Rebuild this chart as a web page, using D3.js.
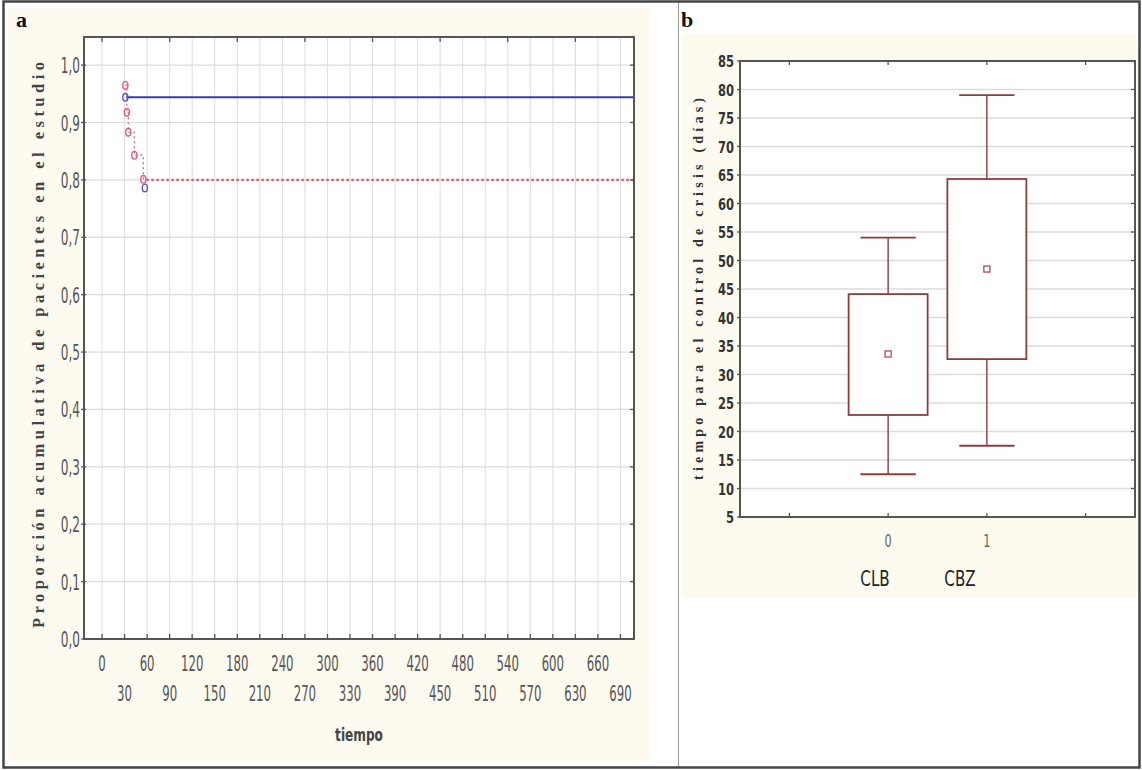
<!DOCTYPE html>
<html>
<head>
<meta charset="utf-8">
<script src="https://cdn.jsdelivr.net/npm/d3@7"></script>
<style>
  body { margin: 0; background: #ffffff; }
  svg { display: block; }
</style>
</head>
<body>
<svg id="chart" width="1142" height="770"></svg>
<script>
// ---------- Panel a data (Kaplan-Meier style) ----------
const timeTicks = [0, 30, 60, 90, 120, 150, 180, 210, 240, 270, 300, 330, 360, 390, 420, 450, 480, 510, 540, 570, 600, 630, 660, 690];
const propTicks = [0.0, 0.1, 0.2, 0.3, 0.4, 0.5, 0.6, 0.7, 0.8, 0.9, 1.0];
const topTicksA = [0, 90, 180, 270, 360, 450, 540, 630];
const redTimes = [31, 33, 35, 43, 55];
const redProps = [0.965, 0.918, 0.883, 0.843, 0.801];
const blueTimes = [31, 57];
const blueProps = [0.944, 0.786];
const blueLevel = 0.944, blueStart = 32;
const redLevel = 0.80, redStart = 59;
const timeMax = 708;

// ---------- Panel b data (box plot) ----------
const groupCodes = [0, 1];
const groupNames = ["CLB", "CBZ"];
const whiskerLow = [12.5, 17.5];
const q1 = [22.9, 32.7];
const meanVal = [33.6, 48.5];
const q3 = [44.1, 64.3];
const whiskerHigh = [54.0, 79.0];
const daysTicks = [5, 10, 15, 20, 25, 30, 35, 40, 45, 50, 55, 60, 65, 70, 75, 80, 85];
const catTicks = [-1, 0, 1, 2];

const svg = d3.select("#chart");
const narrow = "'Liberation Sans Narrow', 'DejaVu Sans Condensed', 'Arial Narrow', sans-serif";
const serif = "'Liberation Serif', 'DejaVu Serif', serif";

// backgrounds
svg.append("rect").attr("x", 8).attr("y", 8).attr("width", 642).attr("height", 754).attr("fill", "#fdfaf0");
svg.append("rect").attr("x", 682).attr("y", 34).attr("width", 458).attr("height", 564).attr("fill", "#fdfaf0");

// outer frame & divider
svg.append("line").attr("x1", 678.5).attr("x2", 678.5).attr("y1", 2).attr("y2", 768).attr("stroke", "#9a9a9a").attr("stroke-width", 1);
svg.append("rect").attr("x", 3.5).attr("y", 1.5).attr("width", 1136).attr("height", 766)
  .attr("fill", "none").attr("stroke", "#444").attr("stroke-width", 2.5);

// panel letters
svg.append("text").attr("x", 16).attr("y", 27).text("a")
  .attr("font-family", serif).attr("font-weight", "bold").attr("font-size", 22).attr("fill", "#111");
svg.append("text").attr("x", 681).attr("y", 27).text("b")
  .attr("font-family", serif).attr("font-weight", "bold").attr("font-size", 22).attr("fill", "#111");

// ================= Panel a =================
const A = {left: 84, right: 634, top: 37, bottom: 639};
const xA = d3.scaleLinear().domain([-24, timeMax]).range([A.left, A.right]);
const yA = d3.scaleLinear().domain([0, 1.049]).range([A.bottom, A.top]);
const gA = svg.append("g");
gA.append("rect").attr("x", A.left).attr("y", A.top).attr("width", A.right - A.left).attr("height", A.bottom - A.top).attr("fill", "#fff");

// grid
gA.append("g").selectAll("line").data(timeTicks).join("line")
  .attr("x1", d => xA(d)).attr("x2", d => xA(d)).attr("y1", A.top).attr("y2", A.bottom)
  .attr("stroke", "#e2e2e2").attr("stroke-width", 1.2);
gA.append("g").selectAll("line").data(propTicks.slice(1)).join("line")
  .attr("x1", A.left).attr("x2", A.right).attr("y1", d => yA(d)).attr("y2", d => yA(d))
  .attr("stroke", "#dcdcdc").attr("stroke-width", 1.2);

// blue solid level
gA.append("line").attr("x1", xA(blueStart)).attr("x2", xA(timeMax)).attr("y1", yA(blueLevel)).attr("y2", yA(blueLevel))
  .attr("stroke", "#3b3c9e").attr("stroke-width", 2.2);
// red dotted level
gA.append("line").attr("x1", xA(redStart)).attr("x2", xA(timeMax)).attr("y1", yA(redLevel)).attr("y2", yA(redLevel))
  .attr("stroke", "#e4566a").attr("stroke-width", 2.2).attr("stroke-dasharray", "2.5,2.5");
// red step
const redPts = redTimes.map((t, i) => [t, redProps[i]]);
gA.append("path").datum(redPts)
  .attr("d", d3.line().x(d => xA(d[0])).y(d => yA(d[1])).curve(d3.curveStepAfter))
  .attr("fill", "none").attr("stroke", "#e4566a").attr("stroke-width", 1.2).attr("stroke-dasharray", "2,3");
// markers
gA.append("g").selectAll("ellipse").data(redPts).join("ellipse")
  .attr("cx", d => xA(d[0])).attr("cy", d => yA(d[1])).attr("rx", 2.6).attr("ry", 3.8)
  .attr("fill", "none").attr("stroke", "#e0607a").attr("stroke-width", 1.4);
gA.append("g").selectAll("ellipse").data(blueTimes.map((t, i) => [t, blueProps[i]])).join("ellipse")
  .attr("cx", d => xA(d[0])).attr("cy", d => yA(d[1])).attr("rx", 2.6).attr("ry", 3.8)
  .attr("fill", "none").attr("stroke", "#5a5ab8").attr("stroke-width", 1.4);

// frame
gA.append("rect").attr("x", A.left).attr("y", A.top).attr("width", A.right - A.left).attr("height", A.bottom - A.top)
  .attr("fill", "none").attr("stroke", "#555").attr("stroke-width", 2);

// bottom inward ticks
gA.append("g").selectAll("line").data(timeTicks).join("line")
  .attr("x1", d => xA(d)).attr("x2", d => xA(d)).attr("y1", A.bottom).attr("y2", A.bottom - 5)
  .attr("stroke", "#555").attr("stroke-width", 1.3);
// top inward ticks
gA.append("g").selectAll("line").data(topTicksA).join("line")
  .attr("x1", d => xA(d)).attr("x2", d => xA(d)).attr("y1", A.top).attr("y2", A.top + 5)
  .attr("stroke", "#555").attr("stroke-width", 1.3);
// left/right ticks
gA.append("g").selectAll("line").data(propTicks).join("line")
  .attr("x1", A.left - 3).attr("x2", A.left + 2).attr("y1", d => yA(d)).attr("y2", d => yA(d))
  .attr("stroke", "#555").attr("stroke-width", 1.3);
gA.append("g").selectAll("line").data(propTicks).join("line")
  .attr("x1", A.right - 4).attr("x2", A.right).attr("y1", d => yA(d)).attr("y2", d => yA(d))
  .attr("stroke", "#555").attr("stroke-width", 1.3);

// y tick labels
const fmtComma = d => d.toFixed(1).replace(".", ",");
gA.append("g").selectAll("text").data(propTicks).join("text")
  .attr("transform", d => `translate(${A.left - 4},${yA(d) + 8}) scale(0.64,1)`)
  .attr("text-anchor", "end").text(fmtComma)
  .attr("font-family", narrow).attr("font-size", 21).attr("fill", "#555");
// x tick labels, alternating rows
gA.append("g").selectAll("text").data(timeTicks).join("text")
  .attr("transform", (d, i) => `translate(${xA(d)},${i % 2 === 0 ? 671 : 701}) scale(0.62,1)`)
  .attr("text-anchor", "middle").text(d => d)
  .attr("font-family", narrow).attr("font-size", 21).attr("fill", "#555");
// axis titles
gA.append("text").attr("transform", `translate(${(A.left + A.right) / 2},741) scale(0.75,1)`).attr("text-anchor", "middle")
  .text("tiempo").attr("font-family", narrow).attr("font-weight", "bold").attr("font-size", 18).attr("fill", "#444");
gA.append("text").attr("transform", "translate(44,345) rotate(-90)").attr("text-anchor", "middle")
  .attr("textLength", 566).attr("lengthAdjust", "spacing")
  .text("Proporción acumulativa de pacientes en el estudio")
  .attr("font-family", serif).attr("font-weight", "bold").attr("font-size", 16.5).attr("fill", "#444");

// ================= Panel b =================
const B = {left: 740, right: 1135, top: 61, bottom: 517};
const xB = d3.scaleLinear().domain([-1.5, 2.5]).range([B.left, B.right]);
const yB = d3.scaleLinear().domain([5, 85]).range([B.bottom, B.top]);
const gB = svg.append("g");
gB.append("rect").attr("x", B.left).attr("y", B.top).attr("width", B.right - B.left).attr("height", B.bottom - B.top).attr("fill", "#fff");
gB.append("g").selectAll("line").data(daysTicks.slice(1, -1)).join("line")
  .attr("x1", B.left).attr("x2", B.right).attr("y1", d => yB(d)).attr("y2", d => yB(d))
  .attr("stroke", "#dcdcdc").attr("stroke-width", 1.5);

const boxColor = "#8e3b3b";
const boxW = 0.8, capW = 0.56;
groupCodes.forEach((g, i) => {
  const cx = xB(g);
  // whiskers
  gB.append("line").attr("x1", cx).attr("x2", cx).attr("y1", yB(whiskerHigh[i])).attr("y2", yB(q3[i])).attr("stroke", boxColor).attr("stroke-width", 1.4);
  gB.append("line").attr("x1", cx).attr("x2", cx).attr("y1", yB(q1[i])).attr("y2", yB(whiskerLow[i])).attr("stroke", boxColor).attr("stroke-width", 1.4);
  [whiskerHigh[i], whiskerLow[i]].forEach(v => {
    gB.append("line").attr("x1", xB(g - capW / 2)).attr("x2", xB(g + capW / 2)).attr("y1", yB(v)).attr("y2", yB(v))
      .attr("stroke", boxColor).attr("stroke-width", 1.8);
  });
  gB.append("rect").attr("x", xB(g - boxW / 2)).attr("y", yB(q3[i])).attr("width", xB(g + boxW / 2) - xB(g - boxW / 2))
    .attr("height", yB(q1[i]) - yB(q3[i])).attr("fill", "#fff").attr("stroke", boxColor).attr("stroke-width", 1.8);
  gB.append("rect").attr("x", cx - 3).attr("y", yB(meanVal[i]) - 3).attr("width", 6).attr("height", 6)
    .attr("fill", "none").attr("stroke", "#b4465a").attr("stroke-width", 1.3);
});

gB.append("rect").attr("x", B.left).attr("y", B.top).attr("width", B.right - B.left).attr("height", B.bottom - B.top)
  .attr("fill", "none").attr("stroke", "#555").attr("stroke-width", 2);
// ticks
gB.append("g").selectAll("line").data(catTicks).join("line")
  .attr("x1", d => xB(d)).attr("x2", d => xB(d)).attr("y1", B.top).attr("y2", B.top + 4).attr("stroke", "#555").attr("stroke-width", 1.3);
gB.append("g").selectAll("line").data(catTicks).join("line")
  .attr("x1", d => xB(d)).attr("x2", d => xB(d)).attr("y1", B.bottom).attr("y2", B.bottom - 4).attr("stroke", "#555").attr("stroke-width", 1.3);
gB.append("g").selectAll("line").data(daysTicks).join("line")
  .attr("x1", B.left - 3).attr("x2", B.left + 1).attr("y1", d => yB(d)).attr("y2", d => yB(d)).attr("stroke", "#555").attr("stroke-width", 1.3);
gB.append("g").selectAll("line").data(daysTicks).join("line")
  .attr("x1", B.right - 4).attr("x2", B.right).attr("y1", d => yB(d)).attr("y2", d => yB(d)).attr("stroke", "#555").attr("stroke-width", 1.3);

// labels
gB.append("g").selectAll("text").data(daysTicks).join("text")
  .attr("transform", d => `translate(${B.left - 6},${yB(d) + 6}) scale(0.8,1)`).attr("text-anchor", "end").text(d => d)
  .attr("font-family", narrow).attr("font-weight", "bold").attr("font-size", 16).attr("fill", "#333");
gB.append("g").selectAll("text").data(groupCodes).join("text")
  .attr("transform", d => `translate(${xB(d)},547) scale(0.7,1)`).attr("text-anchor", "middle").text(d => d)
  .attr("font-family", narrow).attr("font-size", 18).attr("fill", "#666");
gB.append("g").selectAll("text").data(groupNames).join("text")
  .attr("transform", (d, i) => `translate(${[875, 960][i]},586) scale(0.8,1)`).attr("text-anchor", "middle").text(d => d)
  .attr("font-family", narrow).attr("font-size", 21).attr("fill", "#222");
gB.append("text").attr("transform", "translate(703,289) rotate(-90)").attr("text-anchor", "middle")
  .attr("textLength", 382).attr("lengthAdjust", "spacing")
  .text("tiempo para el control de crisis (días)")
  .attr("font-family", serif).attr("font-weight", "bold").attr("font-size", 14).attr("fill", "#333");
</script>
</body>
</html>
